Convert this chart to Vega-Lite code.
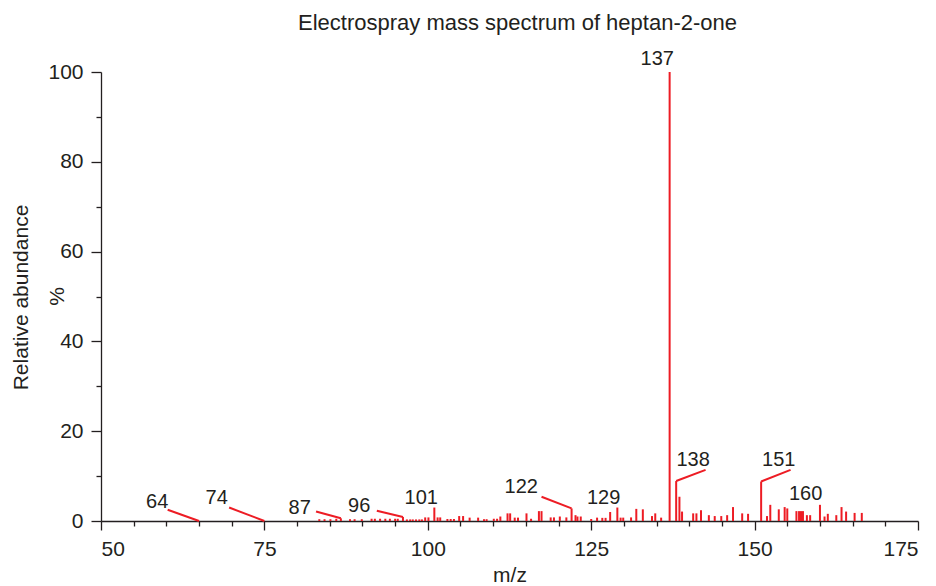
{
  "$schema": "https://vega.github.io/schema/vega-lite/v6.json",
  "width": 817,
  "height": 449,
  "autosize": "none",
  "padding": {"left": 101, "top": 72, "right": 18, "bottom": 65},
  "background": "white",
  "config": {
    "view": {"stroke": null},
    "font": "Liberation Sans",
    "axis": {"grid": false, "domainColor": "#231f20", "tickColor": "#231f20", "labelColor": "#231f20", "titleColor": "#231f20", "domainWidth": 1.3, "tickWidth": 1.3, "labelFont": "Liberation Sans", "titleFont": "Liberation Sans", "titleFontWeight": "normal"}
  },
  "title": {"text": "Electrospray mass spectrum of heptan-2-one", "fontSize": 22, "fontWeight": "normal", "font": "Liberation Sans", "color": "#231f20", "offset": 14, "dx": 8},
  "datasets": {
    "peaks": [
      {"mz": 83.4, "ab": 0.4}, {"mz": 84.2, "ab": 0.4}, {"mz": 85.1, "ab": 0.4}, {"mz": 86.0, "ab": 0.5}, {"mz": 86.7, "ab": 0.6},
      {"mz": 88.1, "ab": 0.4}, {"mz": 88.8, "ab": 0.4}, {"mz": 89.9, "ab": 0.4}, {"mz": 91.4, "ab": 0.5}, {"mz": 91.9, "ab": 0.5},
      {"mz": 92.7, "ab": 0.5}, {"mz": 93.5, "ab": 0.5}, {"mz": 94.2, "ab": 0.5}, {"mz": 95.0, "ab": 0.5}, {"mz": 95.4, "ab": 0.5},
      {"mz": 96.2, "ab": 0.9}, {"mz": 96.8, "ab": 0.35}, {"mz": 97.3, "ab": 0.35}, {"mz": 97.7, "ab": 0.35}, {"mz": 98.2, "ab": 0.35},
      {"mz": 98.7, "ab": 0.35}, {"mz": 99.1, "ab": 0.35}, {"mz": 99.6, "ab": 0.8}, {"mz": 100.1, "ab": 0.8}, {"mz": 101, "ab": 3.0},
      {"mz": 101.5, "ab": 0.8}, {"mz": 101.9, "ab": 0.8}, {"mz": 103.0, "ab": 0.45}, {"mz": 103.5, "ab": 0.45}, {"mz": 104.0, "ab": 0.45},
      {"mz": 104.8, "ab": 1.1}, {"mz": 105.4, "ab": 1.1}, {"mz": 106.4, "ab": 0.75}, {"mz": 107.7, "ab": 0.75}, {"mz": 108.6, "ab": 0.4},
      {"mz": 109.0, "ab": 0.4}, {"mz": 110.1, "ab": 0.5}, {"mz": 110.6, "ab": 0.5}, {"mz": 111.1, "ab": 1.0}, {"mz": 112.2, "ab": 1.7},
      {"mz": 112.6, "ab": 1.7}, {"mz": 113.3, "ab": 0.75}, {"mz": 113.8, "ab": 0.75}, {"mz": 115.1, "ab": 1.7}, {"mz": 115.8, "ab": 0.5},
      {"mz": 117.0, "ab": 2.2}, {"mz": 117.4, "ab": 2.2}, {"mz": 118.8, "ab": 0.8}, {"mz": 119.3, "ab": 0.8}, {"mz": 120.2, "ab": 1.0},
      {"mz": 121.2, "ab": 0.8}, {"mz": 122, "ab": 2.8}, {"mz": 122.6, "ab": 1.3}, {"mz": 122.9, "ab": 1.0}, {"mz": 123.4, "ab": 1.0},
      {"mz": 125.0, "ab": 0.45}, {"mz": 125.9, "ab": 0.75}, {"mz": 126.7, "ab": 0.7}, {"mz": 127.2, "ab": 0.7}, {"mz": 127.9, "ab": 2.0},
      {"mz": 129, "ab": 3.0}, {"mz": 129.5, "ab": 0.75}, {"mz": 129.9, "ab": 0.75}, {"mz": 131.1, "ab": 0.8}, {"mz": 131.9, "ab": 2.7},
      {"mz": 132.9, "ab": 2.6}, {"mz": 134.3, "ab": 1.1}, {"mz": 134.8, "ab": 1.7}, {"mz": 135.7, "ab": 0.75}, {"mz": 137, "ab": 100},
      {"mz": 138, "ab": 8.9}, {"mz": 138.5, "ab": 5.4}, {"mz": 138.9, "ab": 2.1}, {"mz": 140.6, "ab": 1.7}, {"mz": 141.1, "ab": 1.7},
      {"mz": 141.8, "ab": 2.4}, {"mz": 143.0, "ab": 1.3}, {"mz": 143.9, "ab": 1.1}, {"mz": 144.9, "ab": 1.1}, {"mz": 145.8, "ab": 1.3},
      {"mz": 146.7, "ab": 3.1}, {"mz": 148.1, "ab": 1.7}, {"mz": 149.0, "ab": 1.6}, {"mz": 151, "ab": 8.8}, {"mz": 151.9, "ab": 1.1},
      {"mz": 152.4, "ab": 3.6}, {"mz": 153.7, "ab": 2.6}, {"mz": 154.6, "ab": 3.1}, {"mz": 155.0, "ab": 2.8}, {"mz": 156.4, "ab": 2.2},
      {"mz": 156.8, "ab": 2.2}, {"mz": 157.1, "ab": 2.2}, {"mz": 157.4, "ab": 2.2}, {"mz": 158.0, "ab": 1.3}, {"mz": 158.5, "ab": 1.3},
      {"mz": 160, "ab": 3.6}, {"mz": 160.7, "ab": 1.0}, {"mz": 161.2, "ab": 1.6}, {"mz": 162.5, "ab": 1.3}, {"mz": 163.3, "ab": 3.1},
      {"mz": 164.0, "ab": 2.1}, {"mz": 165.3, "ab": 1.8}, {"mz": 166.4, "ab": 1.8}
    ],
    "leaders": [
      {"label": "64", "x1": 60.2, "y1": 2.5, "x2": 65, "y2": 0},
      {"label": "74", "x1": 69.6, "y1": 3.0, "x2": 75, "y2": 0},
      {"label": "87", "x1": 82.9, "y1": 2.1, "x2": 86.7, "y2": 0.6},
      {"label": "96", "x1": 92.2, "y1": 2.3, "x2": 96.2, "y2": 0.9},
      {"label": "122", "x1": 117.4, "y1": 5.4, "x2": 122, "y2": 2.8},
      {"label": "138", "x1": 138, "y1": 8.9, "x2": 142.5, "y2": 11.4},
      {"label": "151", "x1": 151, "y1": 8.8, "x2": 155.5, "y2": 11.4}
    ],
    "labels": [
      {"label": "64", "tx": 58.6, "ty": 4.3},
      {"label": "74", "tx": 67.7, "ty": 5.1},
      {"label": "87", "tx": 80.4, "ty": 3.0},
      {"label": "96", "tx": 89.5, "ty": 3.4},
      {"label": "101", "tx": 99.0, "ty": 5.2},
      {"label": "122", "tx": 114.3, "ty": 7.5},
      {"label": "129", "tx": 126.9, "ty": 5.2},
      {"label": "137", "tx": 135.1, "ty": 102.9},
      {"label": "138", "tx": 140.6, "ty": 13.5},
      {"label": "151", "tx": 153.7, "ty": 13.5},
      {"label": "160", "tx": 157.8, "ty": 6.0}
    ]
  },
  "resolve": {"axis": {"x": "independent", "y": "independent"}},
  "layer": [
    {
      "data": {"name": "peaks"},
      "mark": {"type": "rule", "color": "#ed1c24", "strokeWidth": 2},
      "encoding": {
        "x": {"field": "mz", "type": "quantitative", "scale": {"domain": [50, 175], "nice": false, "zero": false},
              "axis": {"orient": "bottom", "values": [50, 75, 100, 125, 150, 175], "tickSize": 9, "labelFontSize": 21, "labelPadding": 8, "title": "m/z", "titleFontSize": 21, "titlePadding": 5}},
        "y": {"field": "ab", "type": "quantitative", "scale": {"domain": [0, 100], "nice": false},
              "axis": {"orient": "left", "values": [0, 20, 40, 60, 80, 100], "tickSize": 10, "labelFontSize": 21, "labelPadding": 8, "title": "%", "titleFontSize": 21, "titleAngle": -90, "titleBaseline": "middle", "titleX": -44, "titleY": 224}},
        "y2": {"datum": 0}
      }
    },
    {
      "data": {"name": "peaks"},
      "mark": {"type": "rule", "opacity": 0},
      "encoding": {
        "x": {"field": "mz", "type": "quantitative",
              "axis": {"orient": "bottom", "values": [55, 60, 65, 70, 80, 85, 90, 95, 105, 110, 115, 120, 130, 135, 140, 145, 155, 160, 165, 170], "tickSize": 5, "labels": false, "domain": false, "title": null}},
        "y": {"field": "ab", "type": "quantitative",
              "axis": {"orient": "left", "values": [10, 30, 50, 70, 90], "tickSize": 5, "labels": false, "domain": false, "title": "Relative abundance", "titleFontSize": 21, "titleAngle": -90, "titleBaseline": "middle", "titleX": -80, "titleY": 225}}
      }
    },
    {
      "data": {"name": "leaders"},
      "mark": {"type": "rule", "color": "#ed1c24", "strokeWidth": 2},
      "encoding": {
        "x": {"field": "x1", "type": "quantitative", "axis": null},
        "y": {"field": "y1", "type": "quantitative", "axis": null},
        "x2": {"field": "x2"},
        "y2": {"field": "y2"}
      }
    },
    {
      "data": {"name": "labels"},
      "mark": {"type": "text", "fontSize": 20, "font": "Liberation Sans", "color": "#231f20", "align": "center", "baseline": "middle"},
      "encoding": {
        "x": {"field": "tx", "type": "quantitative", "axis": null},
        "y": {"field": "ty", "type": "quantitative", "axis": null},
        "text": {"field": "label"}
      }
    }
  ]
}
